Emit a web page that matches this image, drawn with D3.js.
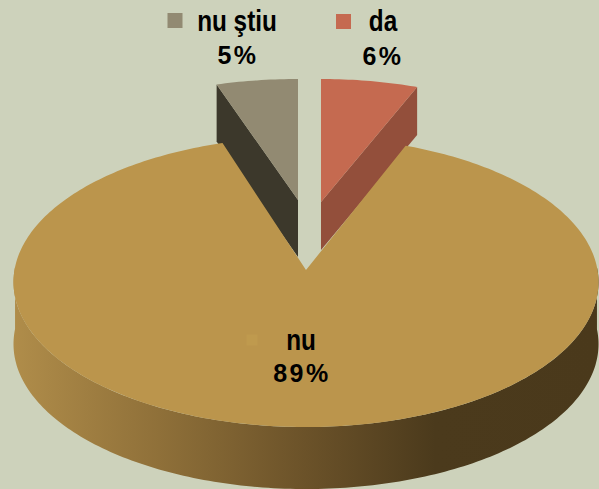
<!DOCTYPE html>
<html>
<head>
<meta charset="utf-8">
<script src="https://cdnjs.cloudflare.com/ajax/libs/d3/7.8.5/d3.min.js"></script>
<style>
html,body{margin:0;padding:0;background:#cdd2bb;overflow:hidden}
svg{display:block}
text{font-family:"Liberation Sans",Arial,sans-serif;fill:#000;font-weight:bold;text-anchor:middle}
</style>
</head>
<body>
<svg id="c" width="599" height="489"></svg>
<script>
const categories = ["da", "nu", "nu ştiu"];
const values = [6, 89, 5];
const labels = ["6%", "89%", "5%"];
const topColors = ["#c56a50", "#bb954c", "#928a72"];
const sideColors = ["#934f3b", "#4a391c", "#3c382b"];
const keyColors = ["#c56a50", "#bf9a4e", "#928a72"];

// layout of each slice: apex on screen, scale of the slice, label placement
const layout = [
  {ax: 321, ay: 202, sx: 0.965, sy: 0.925, depth: 48, kx: 343.5, ky: 21.5, tx: 383, ty1: 31, ty2: 65, nx: 383},
  {ax: 306, ay: 270, sx: 1, sy: 1, depth: 62, kx: 252, ky: 340, tx: 301, ty1: 350, ty2: 382, nx: 302, ks: 11},
  {ax: 298, ay: 200, sx: 0.975, sy: 0.91, depth: 57, kx: 175, ky: 20.5, tx: 237, ty1: 31, ty2: 64, nx: 238}
];

const svg = d3.select("#c");
const RX = 291.5, RY = 144, P = 0.083;

// projective mapping of a pie angle on the tilted disc
function project(a, l, dy) {
  const u = Math.sin(a), v = -Math.cos(a), w = 1 - P * v;
  return [l.ax + l.sx * RX * u / w, l.ay + l.sy * RY * v / w + (dy || 0)];
}

const arcs = d3.pie().sort(null).value(d => d)(values);
const line = d3.line();
const deg = Math.PI / 180;
const sweep = (a0, a1) => d3.range(a0, a1, deg).concat([a1]);

// gradient for the main slice rim
const defs = svg.append("defs");
const grad = defs.append("linearGradient").attr("id", "rim")
  .attr("gradientUnits", "userSpaceOnUse").attr("x1", 12).attr("x2", 600).attr("y1", 0).attr("y2", 0);
[[0, "#b08d4a"], [0.25, "#8f7039"], [0.5, "#6b5229"], [0.72, "#4b3a1c"], [1, "#4a391b"]]
  .forEach(s => grad.append("stop").attr("offset", s[0]).attr("stop-color", s[1]));

// main slice rim
const mainL = layout[1];
const rimAngles = sweep(Math.PI / 2 - 0.02, 3 * Math.PI / 2 + 0.02);
const rimPts = rimAngles.map(a => project(a, mainL, 0))
  .concat(rimAngles.slice().reverse().map(a => project(a, mainL, mainL.depth)));
svg.append("path").attr("d", line(rimPts) + "Z").attr("fill", "url(#rim)");

// small slices: cut face first
[0, 2].forEach(i => {
  const d = arcs[i], l = layout[i];
  const edge = i === 0 ? d.endAngle : d.startAngle;
  const o = project(edge, l, 0), oLow = project(edge, l, l.depth);
  svg.append("path")
    .attr("d", line([[l.ax, l.ay], o, oLow, [l.ax, l.ay + l.depth]]) + "Z")
    .attr("fill", sideColors[i]);
});

// top faces; the main slice hides the lower part of the small slices
[1, 0, 2].forEach(i => {
  const d = arcs[i], l = layout[i];
  const pts = [[l.ax, l.ay]].concat(sweep(d.startAngle, d.endAngle).map(a => project(a, l, 0)));
  svg.append("path").attr("d", line(pts) + "Z").attr("fill", topColors[i]);
});

// labels
categories.forEach((c, i) => {
  const l = layout[i], ks = l.ks || 15;
  svg.append("rect").attr("x", l.kx - ks / 2).attr("y", l.ky - ks / 2)
    .attr("width", ks).attr("height", ks).attr("fill", keyColors[i]);
  svg.append("text").attr("transform", `translate(${l.tx},${l.ty1}) scale(0.81,1)`)
    .style("font-size", "30px").text(c);
  svg.append("text").attr("x", l.nx).attr("y", l.ty2)
    .style("font-size", "25px").style("letter-spacing", "2.5px").text(labels[i]);
});
</script>
</body>
</html>
